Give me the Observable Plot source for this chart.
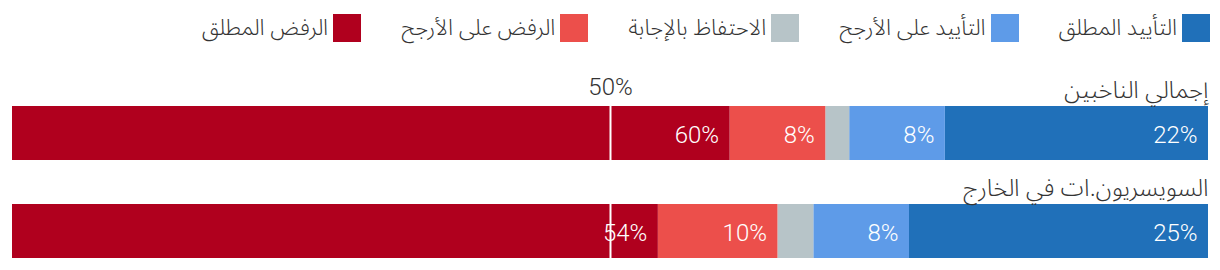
<!DOCTYPE html>
<html>
<head>
<meta charset="utf-8">
<script src="https://cdn.jsdelivr.net/npm/d3@7"></script>
<script src="https://cdn.jsdelivr.net/npm/@observablehq/plot@0.6"></script>
<style>
  html, body { margin: 0; padding: 0; background: #fff; }
  body { width: 1220px; font-family: "Noto Sans Arabic", "Noto Sans", "DejaVu Sans", sans-serif; }
  #legend { height: 56px; display: flex; flex-direction: row; direction: rtl; align-items: center;
            padding-right: 10px; box-sizing: border-box; }
  .item { display: flex; align-items: center; margin-left: 40px; font-size: 22px; color: #333; font-weight: 300; }
  .sw { width: 28px; height: 28px; margin-left: 5px; }
  svg { display: block; }
</style>
</head>
<body>
<div id="legend"></div>
<div id="chart"></div>
<script>
const rows = ["إجمالي الناخبين", "السويسريون.ات في الخارج"];
const categories = ["التأييد المطلق", "التأييد على الأرجح", "الاحتفاظ بالإجابة", "الرفض على الأرجح", "الرفض المطلق"];
const colors = ["#2070b9", "#5e9be8", "#b7c4c8", "#ec4f4b", "#b0001e"];
const totalVoters = [22, 8, 2, 8, 60];
const swissAbroad = [25, 8, 3, 10, 54];
const midLabel = "50%";

const series = [totalVoters, swissAbroad];
const data = [];
rows.forEach((row, i) => {
  let acc = 0;
  series[i].forEach((v, j) => {
    data.push({row, cat: categories[j], value: v, x1: acc, x2: acc + v});
    acc += v;
  });
});

const legend = d3.select("#legend");
categories.forEach((c, i) => {
  const it = legend.append("div").attr("class", "item");
  it.append("div").attr("class", "sw").style("background", colors[i]);
  it.append("span").text(c);
});

const numFont = "Roboto, sans-serif";
const chart = Plot.plot({
  width: 1220,
  height: 214,
  marginLeft: 12,
  marginRight: 12,
  marginTop: 50,
  marginBottom: 12,
  x: {domain: [0, 100], reverse: true, axis: null},
  y: {domain: rows, axis: null, paddingInner: 0.449, paddingOuter: 0},
  color: {domain: categories, range: colors},
  marks: [
    Plot.barX(data, {x1: "x1", x2: "x2", y: "row", fill: "cat"}),
    Plot.tickX(rows, {x: () => 50, y: d => d, stroke: "white", strokeWidth: 2}),
    Plot.text(data.filter(d => d.value >= 5), {
      x: "x1", y: "row", text: d => d.value + "%", textAnchor: "end", dx: -11, dy: 2,
      fill: "white", fontSize: 24, fontWeight: 300, fontFamily: numFont
    }),
    Plot.text(rows, {
      x: () => 0, y: d => d, text: d => d, textAnchor: "end", lineAnchor: "bottom", dy: -36,
      fill: "#333", fontSize: 24, fontWeight: 300,
      fontFamily: "'Noto Sans Arabic', 'Noto Sans', 'DejaVu Sans', sans-serif"
    }),
    Plot.text([midLabel], {
      x: () => 50, y: () => rows[0], text: d => d, textAnchor: "middle", lineAnchor: "bottom", dy: -39,
      fill: "#333", fontSize: 24, fontWeight: 300, fontFamily: numFont
    })
  ]
});
document.getElementById("chart").appendChild(chart);
</script>
</body>
</html>
